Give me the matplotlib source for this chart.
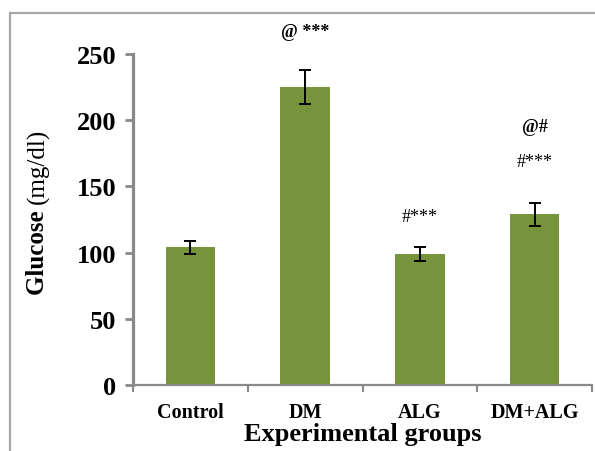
import matplotlib.pyplot as plt
from matplotlib.patches import Rectangle
import numpy as np

# datos
grupos = ['Control', 'DM', 'ALG', 'DM+ALG']
glucosa = [104, 225, 99, 129]
error = [5, 13, 5.5, 8.5]
marcas = ['', '@ ***', '#***', '#***']
marcas_extra = ['', '', '', '@#']

plt.rcParams['font.family'] = ['Liberation Serif', 'DejaVu Serif']

fig = plt.figure(figsize=(5.95, 4.52), dpi=100)
ax = fig.add_axes([0.2235, 0.146, 0.7715, 0.732])

x = np.arange(len(grupos))
ax.bar(x, glucosa, width=0.43, color='#77933C', zorder=2)
ax.errorbar(x, glucosa, yerr=error, fmt='none', ecolor='black',
            elinewidth=1.4, capsize=4.5, capthick=1.4, zorder=3)

# anotaciones de significancia
alturas = [0, 267, 127, 169]
for i, txt in enumerate(marcas):
    if txt:
        ax.text(x[i], alturas[i], txt, ha='center', va='center', fontsize=13,
                fontweight='bold' if txt.startswith('@') else 'normal',
                clip_on=False)
ax.text(x[3], 195, marcas_extra[3], ha='center', va='center', fontsize=13,
        fontweight='bold')

ax.set_xlim(-0.5, 3.5)
ax.set_ylim(0, 250)
ax.set_yticks([0, 50, 100, 150, 200, 250])
ax.set_yticklabels(['0', '50', '100', '150', '200', '250'],
                   fontsize=19, fontweight='bold')
ax.set_xticks(x)
ax.set_xticklabels(grupos, fontsize=14.5, fontweight='bold')
ax.set_xticks(np.arange(-0.5, 4, 1), minor=True)
ax.tick_params(axis='x', which='major', length=0, pad=12)
ax.tick_params(axis='x', which='minor', length=5, width=1.5, color='#898989')
ax.tick_params(axis='y', length=6, width=2, color='#898989', pad=6)

for lado in ['top', 'right']:
    ax.spines[lado].set_visible(False)
ax.spines['left'].set_color('#898989')
ax.spines['left'].set_linewidth(2.3)
ax.spines['bottom'].set_color('#898989')
ax.spines['bottom'].set_linewidth(1.6)

ax.set_xlabel('Experimental groups', fontsize=19, fontweight='bold', labelpad=0)

# etiqueta y: "Glucose" en negrita seguido de "(mg/dl)" normal
fig.canvas.draw()
rend = fig.canvas.get_renderer()
t1 = fig.text(0, 0, 'Glucose ', rotation=90, fontsize=18, fontweight='bold')
t2 = fig.text(0, 0, '(mg/dl)', rotation=90, fontsize=18)
h1 = t1.get_window_extent(rend).height
h2 = t2.get_window_extent(rend).height
centro = 452 - 212
x0 = 38 / 595
inicio = centro - (h1 + h2) / 2
t1.set_position((x0, inicio / 452))
t1.set_ha('center')
t1.set_va('bottom')
t2.set_position((x0, (inicio + h1) / 452))
t2.set_ha('center')
t2.set_va('bottom')

# marco exterior
marco = Rectangle((10 / 595, -0.2), 1.2, 1 - 14 / 452 + 0.2, transform=fig.transFigure,
                  fill=False, edgecolor='#A6A6A6', linewidth=1.6, clip_on=False)
fig.patches.append(marco)

fig.savefig('out.png', dpi=100)
